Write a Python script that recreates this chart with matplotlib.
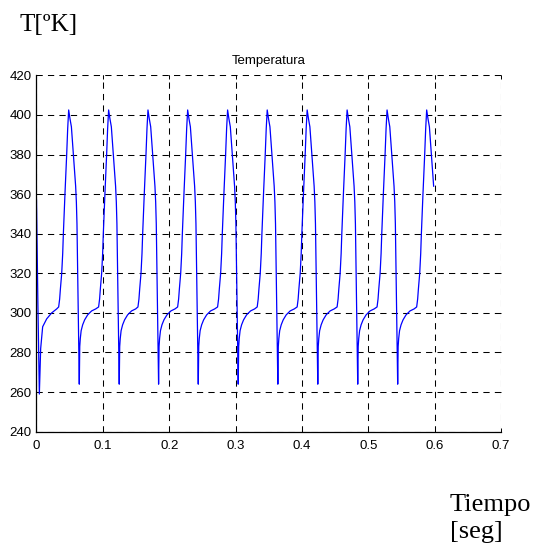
import numpy as np
import matplotlib
matplotlib.use("Agg")
import matplotlib.pyplot as plt

# ---- data ----
# opening transient (time [s], temperature [K])
start_t = [0.0, 0.0021, 0.0043, 0.0063, 0.0093, 0.0154, 0.0229, 0.0304]
start_T = [357, 305, 259, 282, 293, 297, 300, 302]

# times of the ten temperature peaks [s]
peak_times = [0.0485, 0.1087, 0.1680, 0.2278, 0.2880, 0.3477, 0.4079, 0.4681, 0.5283, 0.5880]

# shape of one cycle around a peak: offset from the peak [ms] and temperature [K]
cycle_off_ms = [-15.1, -13.6, -12.5, -10.5, -9.0, -8.0, -5.6, -3.0, -1.5, 0.0,
                2.0, 4.1, 6.0, 8.6, 10.5, 11.6, 12.5, 13.6, 14.8, 16.0,
                16.7, 17.5, 18.8, 21.1, 24.1, 28.6, 34.6, 40.7]
cycle_T = [303, 307, 312, 320, 330, 340, 360, 380, 393, 402.5,
           398, 394, 385, 373, 364, 356, 345, 320, 290, 264,
           283, 287, 291, 294, 296.5, 299, 301, 302]

t_end = 0.5995

x_ticks = [0, 0.1, 0.2, 0.3, 0.4, 0.5, 0.6, 0.7]
x_labels = ['0', '0.1', '0.2', '0.3', '0.4', '0.5', '0.6', '0.7']
y_ticks = [240, 260, 280, 300, 320, 340, 360, 380, 400, 420]
y_labels = [str(v) for v in y_ticks]

# ---- assemble the series ----
ts = list(start_t)
Ts = list(start_T)
for p in peak_times:
    for o, v in zip(cycle_off_ms, cycle_T):
        tt = p + o / 1000.0
        if tt <= t_end and tt > ts[-1]:
            ts.append(tt)
            Ts.append(v)

# ---- figure ----
fig = plt.figure(figsize=(5.39, 5.49), dpi=100)
ax = fig.add_axes([0.0677, 0.2137, 0.8618, 0.6491])

ax.plot(ts, Ts, color=(0, 0, 1), lw=0.9)

ax.set_xlim(0, 0.7)
ax.set_ylim(240, 420)
ax.set_xticks(x_ticks)
ax.set_xticklabels(x_labels)
ax.set_yticks(y_ticks)
ax.set_yticklabels(y_labels)

for lab in ax.get_xticklabels() + ax.get_yticklabels():
    lab.set_fontfamily('Liberation Sans')
    lab.set_fontsize(9.5)

ax.tick_params(direction='in', length=3, width=0.7, top=True, right=True,
               pad=3.5, colors='black')
ax.tick_params(axis='x', pad=6)
ax.grid(True, color='black', linestyle=(0, (6, 5)), linewidth=0.75)
ax.spines['top'].set_visible(False)
ax.spines['right'].set_visible(False)
for s in ('left', 'bottom'):
    ax.spines[s].set_linewidth(0.9)
    ax.spines[s].set_color('black')

ax.set_title('Temperatura', fontfamily='Liberation Sans', fontsize=9.5, pad=8)

fig.text(20 / 539, 1 - 31 / 549, 'T[ºK]', fontfamily='Liberation Serif',
         fontsize=18, ha='left', va='baseline')
fig.text(450 / 539, 1 - 511 / 549, 'Tiempo', fontfamily='Liberation Serif',
         fontsize=19, ha='left', va='baseline')
fig.text(450 / 539, 1 - 538 / 549, '[seg]', fontfamily='Liberation Serif',
         fontsize=19, ha='left', va='baseline')

fig.savefig('out.png', dpi=100)
